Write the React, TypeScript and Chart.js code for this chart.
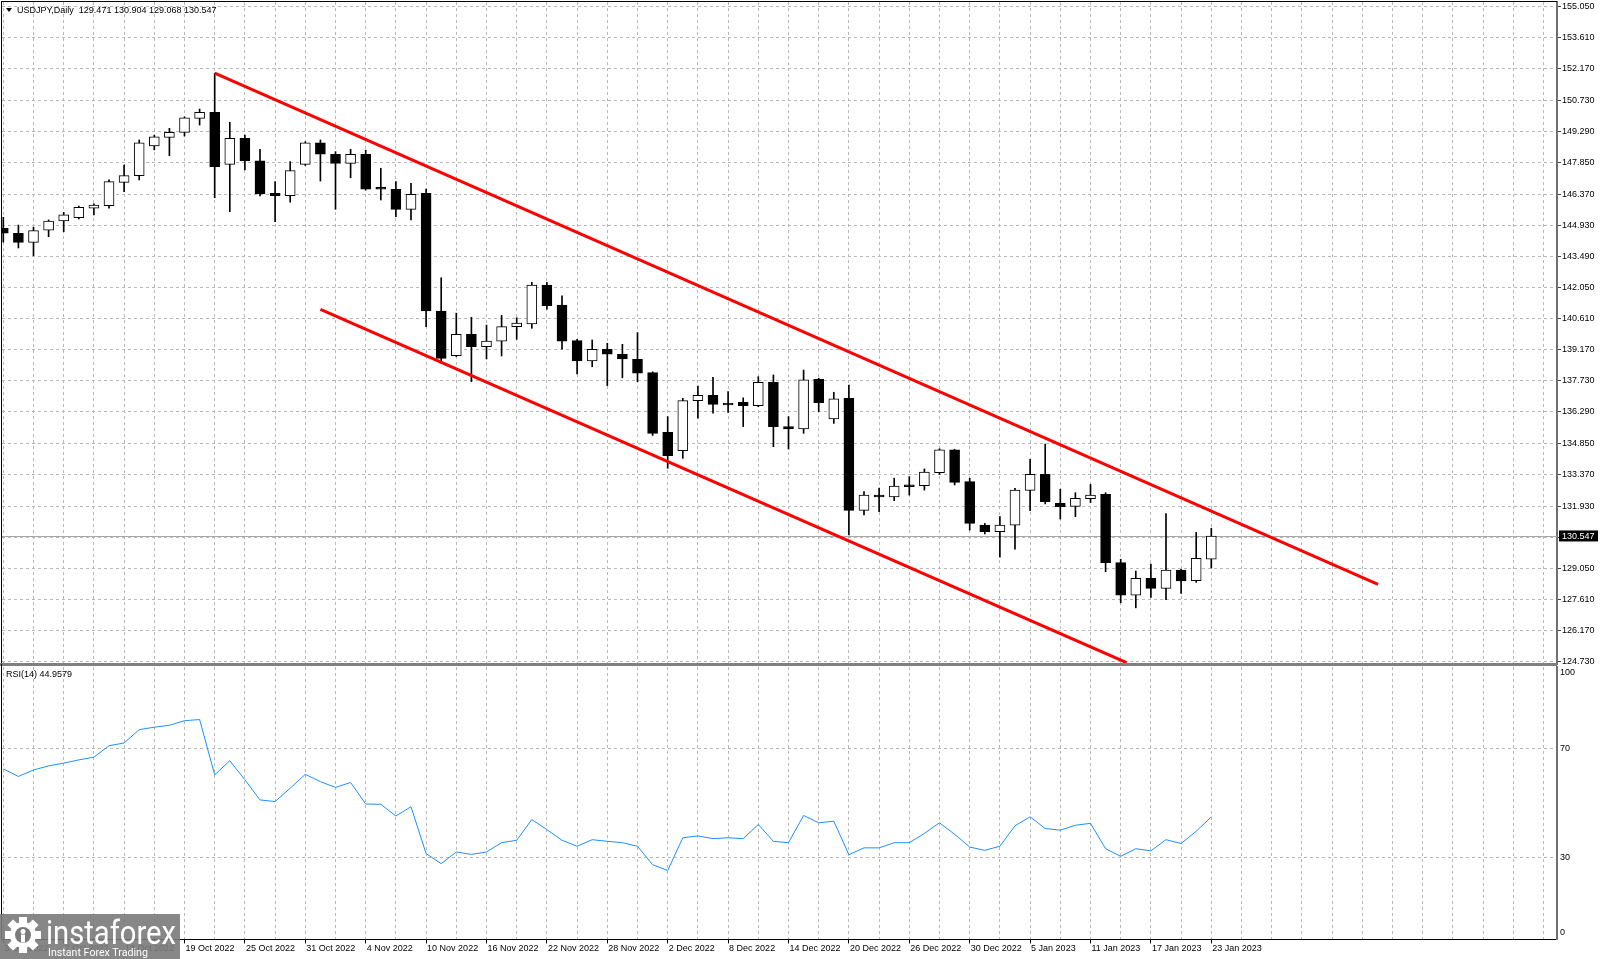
import React, { useEffect, useRef } from 'react';
import { Chart, registerables } from 'chart.js';

Chart.register(...registerables);

// ---------- data ----------
const symbolTitle = 'USDJPY,Daily';
const rsiName = 'RSI(14)';

const dateLabels = [
  '3 Oct 2022', '7 Oct 2022', '13 Oct 2022', '19 Oct 2022', '25 Oct 2022', '31 Oct 2022',
  '4 Nov 2022', '10 Nov 2022', '16 Nov 2022', '22 Nov 2022', '28 Nov 2022', '2 Dec 2022',
  '8 Dec 2022', '14 Dec 2022', '20 Dec 2022', '26 Dec 2022', '30 Dec 2022', '5 Jan 2023',
  '11 Jan 2023', '17 Jan 2023', '23 Jan 2023',
];
const labelEvery = 4;

const opens = [
  144.79, 144.56, 144.14, 144.71, 145.13, 145.28, 145.72, 145.84, 146.92, 147.23,
  148.60, 149.00, 149.23, 149.88, 150.16, 147.75, 148.96, 147.92, 146.41, 146.30,
  147.75, 148.75, 148.22, 147.80, 148.22, 146.69, 146.60, 145.67, 146.41, 140.96,
  138.89, 139.88, 139.31, 139.57, 140.24, 140.36, 142.16, 141.24, 139.59, 138.65,
  139.19, 138.96, 138.73, 138.11, 135.35, 134.49, 136.81, 137.06, 136.69, 136.73,
  136.58, 137.66, 135.61, 135.50, 137.80, 135.96, 136.92, 131.73, 132.44, 132.36,
  132.91, 132.88, 133.48, 134.53, 133.06, 131.05, 130.74, 131.05, 132.66, 133.40,
  132.06, 131.92, 132.27, 132.48, 129.31, 127.81, 128.58, 128.12, 128.97, 128.48,
  129.471,
];
const highs = [
  145.30, 144.94, 144.84, 145.18, 145.53, 145.82, 145.92, 147.03, 147.72, 148.88,
  149.10, 149.42, 149.95, 150.31, 151.97, 149.70, 149.11, 148.45, 146.95, 147.88,
  148.80, 148.88, 148.34, 148.45, 148.41, 147.57, 146.95, 146.87, 146.61, 142.50,
  140.86, 140.67, 140.31, 140.76, 140.65, 142.29, 142.29, 141.66, 139.65, 139.62,
  139.47, 139.42, 139.96, 138.15, 136.07, 136.92, 137.49, 137.89, 137.23, 136.94,
  137.92, 138.00, 136.07, 138.23, 137.85, 137.20, 137.53, 132.60, 132.76, 133.22,
  133.29, 133.65, 134.58, 134.56, 133.22, 131.13, 131.44, 132.75, 134.10, 134.80,
  132.71, 132.55, 132.93, 132.55, 129.47, 128.92, 129.24, 131.58, 129.00, 130.71,
  130.904,
];
const lows = [
  144.15, 143.88, 143.52, 144.40, 144.63, 145.22, 145.41, 145.72, 146.49, 147.03,
  148.42, 148.15, 149.06, 149.57, 146.21, 145.56, 147.49, 146.29, 145.10, 146.00,
  147.70, 146.98, 145.67, 147.13, 146.56, 146.10, 145.33, 145.18, 140.24, 138.55,
  138.85, 137.69, 138.74, 138.88, 139.65, 140.16, 141.05, 139.20, 138.05, 138.38,
  137.51, 137.87, 137.69, 135.20, 133.68, 134.14, 136.00, 136.23, 136.27, 135.61,
  136.53, 134.68, 134.57, 135.30, 136.30, 135.76, 130.59, 131.52, 131.67, 132.18,
  132.44, 132.67, 133.40, 132.91, 130.82, 130.64, 129.56, 129.94, 131.72, 132.03,
  131.33, 131.44, 132.09, 128.89, 127.45, 127.22, 127.70, 127.60, 127.89, 128.40,
  129.068,
];
const closes = [
  144.56, 144.14, 144.68, 145.12, 145.41, 145.76, 145.87, 146.95, 147.23, 148.75,
  149.03, 149.23, 149.91, 150.16, 147.64, 148.96, 147.91, 146.38, 146.30, 147.46,
  148.75, 148.22, 147.80, 148.22, 146.60, 146.60, 145.67, 146.36, 140.96, 138.77,
  139.88, 139.31, 139.57, 140.24, 140.40, 142.16, 141.21, 139.57, 138.65, 139.19,
  138.96, 138.74, 138.08, 135.30, 134.26, 136.81, 137.06, 136.64, 136.61, 136.58,
  137.66, 135.61, 135.50, 137.77, 136.72, 136.89, 131.73, 132.44, 132.35, 132.86,
  132.83, 133.50, 134.53, 133.03, 131.13, 130.74, 131.05, 132.67, 133.40, 132.13,
  131.90, 132.29, 132.44, 129.31, 127.81, 128.58, 128.12, 128.97, 128.46, 129.51,
  130.547,
];
const rsi = [
  62.6, 59.8, 62.2, 63.7, 64.7, 65.9, 66.9, 71.1, 72.1, 77.0,
  77.9, 78.6, 80.3, 80.7, 60.4, 65.6, 58.6, 51.2, 50.6, 55.5,
  60.6, 57.9, 55.8, 57.6, 49.7, 49.6, 45.3, 48.7, 31.5, 27.8,
  32.1, 31.2, 32.1, 35.5, 36.4, 44.0, 40.3, 36.4, 34.2, 36.6,
  36.0, 35.5, 34.2, 27.4, 25.3, 37.3, 38.0, 37.0, 37.3, 37.0,
  42.2, 36.0, 35.5, 45.5, 42.8, 43.4, 31.1, 33.6, 33.6, 35.5,
  35.5, 38.9, 42.8, 38.6, 33.9, 32.7, 34.2, 41.7, 45.0, 40.7,
  40.1, 41.9, 42.6, 33.3, 30.5, 33.3, 32.5, 36.6, 35.2, 39.7,
  44.9579,
];

const priceTicks = [
  155.05, 153.61, 152.17, 150.73, 149.29, 147.85, 146.37, 144.93, 143.49, 142.05, 140.61,
  139.17, 137.73, 136.29, 134.85, 133.37, 131.93, 130.49, 129.05, 127.61, 126.17, 124.73,
];
const rsiTicks = [0, 30, 70, 100];
const rsiLevels = [30, 70];

// channel trendlines (bar index, price)
const upperChannelX = [14, 91.04];
const upperChannelY = [151.97, 128.31];
const lowerChannelX = [21, 74.39];
const lowerChannelY = [141.04, 124.68];

// ---------- config ----------
const N = closes.length;
const X_MIN = -0.086;
const X_MAX = 102.894;
const Y_MIN = 124.619;
const Y_MAX = 155.268;
const GRID = '#b8b8b8';
const FONT_FAMILY = "'Liberation Sans', Arial, sans-serif";
const FONT_SIZE = 9;

const idx = closes.map((_, i) => i);
const gridXTicks: number[] = [];
for (let v = 0; v <= X_MAX; v += 2) gridXTicks.push(v);

function dateLabelAt(v: number): string {
  const i = Math.round(v);
  if (Math.abs(v - i) > 1e-6 || i % labelEvery !== 0) return '';
  return dateLabels[i / labelEvery] ?? '';
}

function zeroPad(s: any) {
  s.paddingTop = 0;
  s.paddingBottom = 0;
  s.paddingLeft = 0;
  s.paddingRight = 0;
}

const mainDecor = {
  id: 'mainDecor',
  beforeDatasetsDraw(chart: any) {
    const { ctx, chartArea: a, scales } = chart;
    const y = Math.round(scales.y.getPixelForValue(closes[N - 1])) + 0.5;
    ctx.save();
    ctx.strokeStyle = '#a8a8a8';
    ctx.lineWidth = 1;
    ctx.beginPath();
    ctx.moveTo(a.left, y);
    ctx.lineTo(a.right, y);
    ctx.stroke();
    ctx.restore();
  },
  afterDraw(chart: any) {
    const { ctx, chartArea: a, scales } = chart;
    ctx.save();
    ctx.fillStyle = '#000';
    ctx.fillRect(a.left - 1, a.top - 1, a.right - a.left + 1, 1);
    ctx.fillRect(a.left - 1, a.top - 1, 1, a.bottom - a.top + 1);
    ctx.fillStyle = '#808080';
    ctx.fillRect(0, a.bottom - 1, a.right, 3);
    const py = scales.y.getPixelForValue(closes[N - 1]);
    ctx.fillStyle = '#000';
    ctx.fillRect(a.right + 2, py - 5.5, 39, 11);
    ctx.font = `${FONT_SIZE}px ${FONT_FAMILY}`;
    ctx.textBaseline = 'middle';
    ctx.textAlign = 'left';
    ctx.fillStyle = '#fff';
    ctx.fillText(closes[N - 1].toFixed(3), a.right + 5, py + 0.5);
    ctx.fillStyle = '#000';
    ctx.beginPath();
    ctx.moveTo(6, 8);
    ctx.lineTo(12, 8);
    ctx.lineTo(9, 12);
    ctx.closePath();
    ctx.fill();
    const t = `${symbolTitle}  ${opens[N - 1].toFixed(3)} ${highs[N - 1].toFixed(3)} ${lows[N - 1].toFixed(3)} ${closes[N - 1].toFixed(3)}`;
    ctx.fillText(t, 17, 10.5);
    ctx.restore();
  },
};

const rsiDecor = {
  id: 'rsiDecor',
  afterDraw(chart: any) {
    const { ctx, chartArea: a, scales } = chart;
    ctx.save();
    ctx.fillStyle = '#000';
    ctx.fillRect(a.left - 1, a.top - 3, 1, a.bottom - a.top + 3);
    ctx.font = `${FONT_SIZE}px ${FONT_FAMILY}`;
    ctx.textBaseline = 'middle';
    ctx.textAlign = 'left';
    for (const v of rsiTicks) {
      let y = scales.y.getPixelForValue(v);
      y = Math.min(Math.max(y, a.top + 5.5), a.bottom - 6.5);
      ctx.fillText(String(v), a.right + 3, y);
    }
    ctx.fillText(`${rsiName} ${rsi[N - 1].toFixed(4)}`, 6, a.top + 8);
    ctx.restore();
  },
};

function Logo() {
  const teeth = [0, 45, 90, 135, 180, 225, 270, 315];
  return (
    <div
      style={{
        position: 'absolute',
        left: 0,
        top: 914,
        width: 180,
        height: 45,
        background: 'rgba(122,122,122,0.9)',
      }}
    >
      <svg width={180} height={45}>
        <g transform="translate(23,21)">
          {teeth.map((a) => (
            <rect key={a} x={-4} y={-18} width={8} height={8} fill="#fff" transform={`rotate(${a})`} />
          ))}
          <circle r={13} fill="#fff" />
          <circle r={8} fill="#7a7a7a" />
          <circle cx={0} cy={-3.5} r={2.5} fill="#fff" />
          <rect x={-2} y={-0.5} width={4} height={8} fill="#fff" />
        </g>
        <text
          x={46}
          y={30}
          fill="#fff"
          fontFamily="Roboto, 'Liberation Sans', sans-serif"
          fontSize={34}
          textLength={130}
          lengthAdjust="spacingAndGlyphs"
        >
          instaforex
        </text>
        <text
          x={48}
          y={42}
          fill="#fff"
          fontFamily="Roboto, 'Liberation Sans', sans-serif"
          fontSize={11}
          textLength={100}
          lengthAdjust="spacingAndGlyphs"
        >
          Instant Forex Trading
        </text>
      </svg>
    </div>
  );
}

export default function App() {
  const mainRef = useRef<HTMLCanvasElement>(null);
  const rsiRef = useRef<HTMLCanvasElement>(null);

  useEffect(() => {
    const font = { family: FONT_FAMILY, size: FONT_SIZE };
    const mainChart = new Chart(mainRef.current as HTMLCanvasElement, {
      type: 'bar',
      data: {
        datasets: [
          {
            type: 'line',
            data: upperChannelX.map((x, k) => ({ x, y: upperChannelY[k] })),
            borderColor: '#ff0000',
            borderWidth: 3,
            pointRadius: 0,
            order: 0,
          } as any,
          {
            type: 'line',
            data: lowerChannelX.map((x, k) => ({ x, y: lowerChannelY[k] })),
            borderColor: '#ff0000',
            borderWidth: 3,
            pointRadius: 0,
            order: 0,
          } as any,
          {
            type: 'bar',
            data: idx.map((i) => ({ x: i, y: [opens[i], closes[i]] })),
            backgroundColor: idx.map((i) => (closes[i] >= opens[i] ? '#ffffff' : '#000000')),
            borderColor: '#000000',
            borderWidth: 1,
            borderSkipped: false,
            barThickness: 10,
            grouped: false,
            minBarLength: 1,
            order: 1,
          } as any,
          {
            type: 'bar',
            data: idx.map((i) => ({ x: i, y: [lows[i], highs[i]] })),
            backgroundColor: '#000000',
            borderWidth: 0,
            barThickness: 1,
            grouped: false,
            order: 2,
          } as any,
        ],
      },
      options: {
        animation: false,
        responsive: false,
        maintainAspectRatio: false,
        events: [],
        layout: { padding: { left: 2, top: 2, right: 0, bottom: 8 } },
        plugins: { legend: { display: false }, tooltip: { enabled: false } },
        scales: {
          x: {
            type: 'linear',
            min: X_MIN,
            max: X_MAX,
            bounds: 'data',
            offset: false,
            afterBuildTicks: (s: any) => {
              s.ticks = gridXTicks.map((v) => ({ value: v }));
            },
            afterFit: (s: any) => {
              s.height = 0;
              zeroPad(s);
            },
            ticks: { display: false },
            grid: { color: GRID, offset: false, drawTicks: false },
            border: { display: false, dash: [3, 3] },
          },
          y: {
            type: 'linear',
            position: 'right',
            min: Y_MIN,
            max: Y_MAX,
            bounds: 'data',
            afterBuildTicks: (s: any) => {
              s.ticks = priceTicks.map((v) => ({ value: v }));
            },
            afterFit: (s: any) => {
              s.width = 43;
              zeroPad(s);
            },
            ticks: {
              autoSkip: false,
              color: '#000',
              font,
              padding: 1,
              callback: (v: any) =>
                Math.abs(Number(v) - closes[N - 1]) < 0.72 ? '' : Number(v).toFixed(3),
            },
            grid: { color: GRID, tickLength: 4, tickColor: '#404040' },
            border: { display: true, color: '#707070', width: 2, dash: [3, 3] },
          },
        },
      } as any,
      plugins: [mainDecor],
    });

    const rsiChart = new Chart(rsiRef.current as HTMLCanvasElement, {
      type: 'line',
      data: {
        datasets: [
          {
            data: idx.map((i) => ({ x: i, y: rsi[i] })),
            borderColor: '#1e90ff',
            borderWidth: 1,
            pointRadius: 0,
            tension: 0,
          },
        ],
      },
      options: {
        animation: false,
        responsive: false,
        maintainAspectRatio: false,
        events: [],
        layout: { padding: { left: 2, top: 3, right: 0, bottom: 0 } },
        plugins: { legend: { display: false }, tooltip: { enabled: false } },
        scales: {
          x: {
            type: 'linear',
            min: X_MIN,
            max: X_MAX,
            bounds: 'data',
            offset: false,
            afterBuildTicks: (s: any) => {
              s.ticks = gridXTicks.map((v) => ({ value: v }));
            },
            afterFit: (s: any) => {
              s.height = 19.6;
              zeroPad(s);
            },
            ticks: {
              autoSkip: false,
              maxRotation: 0,
              minRotation: 0,
              align: 'start',
              labelOffset: 1,
              padding: 0,
              color: '#000',
              font,
              callback: (v: any) => dateLabelAt(Number(v)),
            },
            grid: {
              color: GRID,
              offset: false,
              tickLength: 4,
              tickColor: (c: any) => (c.tick && dateLabelAt(c.tick.value) ? '#000' : 'rgba(0,0,0,0)'),
            },
            border: { display: true, color: '#000', width: 1, dash: [3, 3] },
          },
          y: {
            type: 'linear',
            position: 'right',
            min: 0,
            max: 100,
            bounds: 'data',
            afterBuildTicks: (s: any) => {
              s.ticks = rsiTicks.map((v) => ({ value: v }));
            },
            afterFit: (s: any) => {
              s.width = 43;
              zeroPad(s);
            },
            ticks: { display: false },
            grid: {
              drawTicks: false,
              color: (c: any) => (c.tick && rsiLevels.includes(c.tick.value) ? GRID : 'rgba(0,0,0,0)'),
            },
            border: { display: true, color: '#707070', width: 2, dash: [3, 3] },
          },
        },
      } as any,
      plugins: [rsiDecor],
    });

    return () => {
      mainChart.destroy();
      rsiChart.destroy();
    };
  }, []);

  return (
    <div
      style={{
        position: 'fixed',
        left: 0,
        top: 0,
        width: 1600,
        height: 959,
        background: '#ffffff',
        overflow: 'hidden',
      }}
    >
      <canvas
        ref={mainRef}
        width={1600}
        height={672}
        style={{ position: 'absolute', left: 0, top: 0, width: 1600, height: 672 }}
      />
      <canvas
        ref={rsiRef}
        width={1600}
        height={295}
        style={{ position: 'absolute', left: 0, top: 664, width: 1600, height: 295 }}
      />
      <Logo />
    </div>
  );
}
